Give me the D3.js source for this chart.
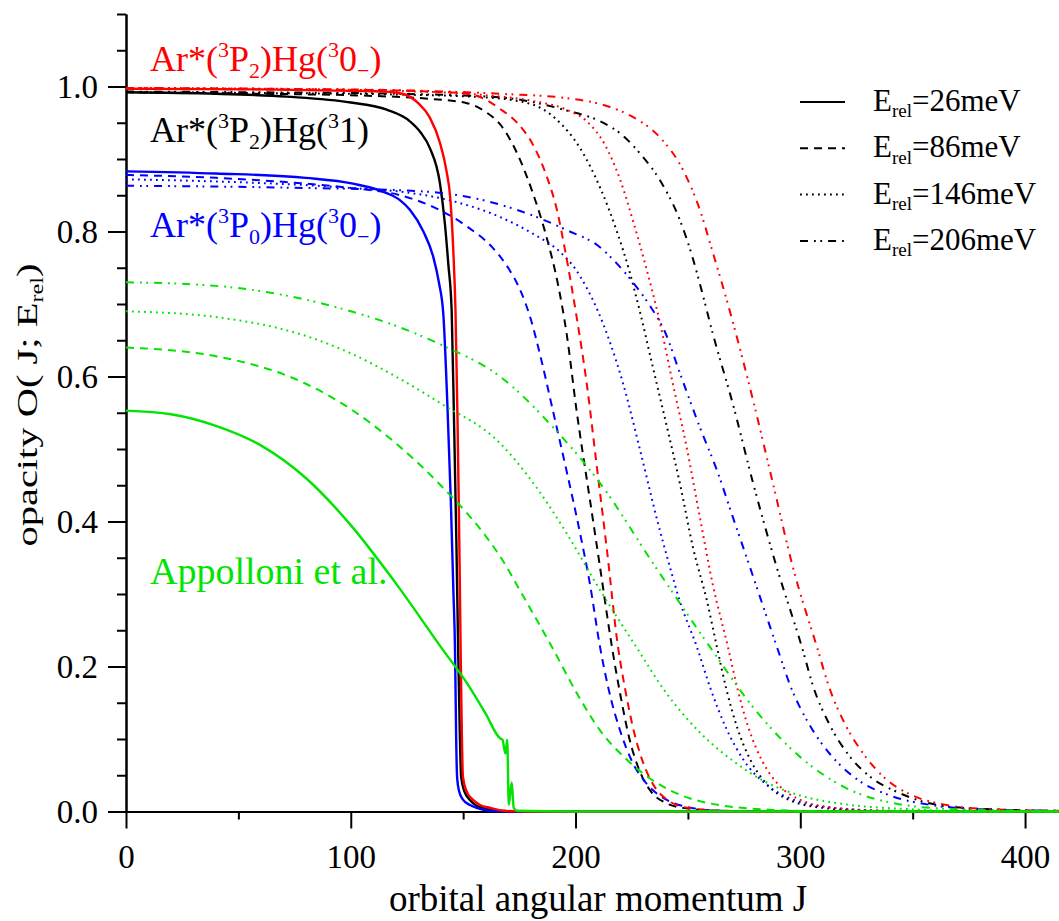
<!DOCTYPE html>
<html>
<head>
<meta charset="utf-8">
<script src="https://cdn.jsdelivr.net/npm/d3@7"></script>
<style>
  html, body { margin: 0; padding: 0; background: #fff; }
  svg { display: block; }
  svg text, svg tspan { font-family: "Liberation Serif", "DejaVu Serif", serif; }
</style>
</head>
<body>
<svg id="chart" width="1059" height="921"></svg>
<script>
// Opacity functions O(J; E_rel) — points are [J, O]

// Ar*(3P2)Hg(3 0-)
const red26 = [[0,0.997],[60,0.996],[100,0.994],[115,0.993],[123,0.99],[130,0.977],[135.2,0.957],[139.7,0.922],[142.5,0.885],[144.3,0.845],[145.6,0.775],[146.6,0.69],[147.5,0.54],[148.3,0.37],[148.9,0.22],[149.4,0.11],[149.9,0.048],[151.5,0.028],[154.4,0.016],[157.5,0.009],[162,0.005],[168,0.001],[178,0],[415,0]];
const red86 = [[0,0.997],[60,0.996],[110,0.995],[135,0.993],[151.7,0.99],[160,0.982],[166,0.97],[174,0.95],[181,0.92],[187.3,0.875],[191.7,0.83],[195.3,0.775],[200.6,0.68],[205,0.59],[209.5,0.475],[214,0.36],[218.9,0.227],[222,0.17],[226,0.11],[230,0.068],[235,0.035],[240,0.018],[250,0.005],[265,0.001],[290,0],[415,0]];
const red146 = [[0,0.998],[60,0.997],[120,0.994],[160,0.988],[181,0.98],[196,0.968],[205,0.952],[213,0.92],[220,0.87],[226,0.81],[231,0.755],[237.5,0.675],[243.3,0.59],[249.6,0.5],[255.3,0.406],[261,0.314],[267.8,0.227],[272,0.17],[277,0.115],[283,0.07],[290,0.038],[300,0.016],[315,0.005],[335,0.001],[370,0],[415,0]];
const red206 = [[0,0.998],[60,0.997],[120,0.995],[166,0.99],[196,0.984],[215,0.972],[225.5,0.958],[237.5,0.93],[247.8,0.885],[255.3,0.83],[260.7,0.775],[265,0.73],[270,0.675],[279,0.567],[287.8,0.453],[296.7,0.337],[307.4,0.227],[313,0.17],[320,0.12],[328,0.08],[338,0.045],[350,0.022],[365,0.009],[385,0.003],[415,0.001]];

// Ar*(3P2)Hg(3 1)
const black26 = [[0,0.992],[40,0.99],[71.5,0.986],[100,0.978],[116,0.968],[126.3,0.952],[131,0.937],[135.2,0.915],[139.7,0.866],[141.9,0.81],[143.4,0.755],[144.9,0.69],[146,0.53],[147,0.37],[147.8,0.22],[148.5,0.11],[149.1,0.048],[150.5,0.028],[153,0.016],[155.5,0.009],[158.8,0.005],[165,0.001],[175,0],[415,0]];
const black86 = [[0,0.992],[60,0.99],[110,0.987],[135,0.983],[151.7,0.977],[160,0.965],[166.4,0.948],[174,0.908],[181,0.853],[187.3,0.79],[192,0.73],[196,0.66],[200.6,0.55],[206.4,0.43],[210.9,0.337],[216.2,0.227],[220,0.16],[224,0.1],[228,0.06],[233,0.03],[240,0.012],[250,0.004],[265,0.001],[290,0],[415,0]];
const black146 = [[0,0.992],[60,0.991],[120,0.989],[160,0.985],[181,0.975],[191.7,0.954],[202,0.915],[211,0.86],[218.4,0.8],[224,0.745],[228.6,0.69],[234.4,0.613],[240.7,0.53],[246.4,0.453],[252.2,0.365],[258.5,0.29],[262.9,0.227],[267,0.17],[272,0.115],[278,0.07],[285,0.038],[295,0.016],[310,0.005],[330,0.001],[360,0],[415,0]];
const black206 = [[0,0.993],[60,0.992],[120,0.99],[166.4,0.985],[196,0.967],[211,0.952],[220,0.935],[228.6,0.908],[237.5,0.871],[246.4,0.816],[252,0.765],[256,0.72],[261,0.66],[270,0.562],[279,0.453],[289.5,0.337],[300.7,0.227],[306,0.17],[313,0.12],[321,0.08],[331,0.048],[343,0.027],[358,0.011],[378,0.004],[415,0.001]];

// Ar*(3P0)Hg(3 0-)
const blue26 = [[0,0.883],[40,0.88],[80,0.874],[101,0.866],[116,0.853],[122,0.843],[126.3,0.83],[132.3,0.8],[136.7,0.765],[139.2,0.73],[141.2,0.685],[143,0.56],[144.5,0.43],[145.6,0.31],[146.4,0.22],[146.9,0.1],[147.3,0.048],[148.2,0.028],[150,0.016],[153,0.009],[156,0.005],[162,0.001],[170,0],[415,0]];
const blue86 = [[0,0.878],[40,0.874],[80,0.866],[100,0.86],[122,0.85],[136.6,0.834],[151.7,0.807],[163,0.778],[170,0.75],[175,0.722],[180,0.68],[185,0.62],[190,0.552],[196,0.47],[202,0.384],[206.4,0.314],[210.9,0.227],[215,0.165],[220,0.11],[225,0.07],[232,0.037],[240,0.017],[250,0.006],[265,0.001],[290,0],[415,0]];
const blue146 = [[0,0.872],[40,0.869],[80,0.864],[100,0.86],[122,0.855],[144,0.843],[166.4,0.82],[181,0.797],[193,0.772],[200,0.748],[205,0.722],[210,0.69],[215,0.65],[221,0.592],[228.6,0.5],[236,0.406],[242,0.337],[246.4,0.29],[254,0.227],[260,0.17],[267,0.115],[275,0.07],[285,0.037],[298,0.015],[315,0.005],[340,0.001],[370,0],[415,0]];
const blue206 = [[0,0.863],[40,0.862],[80,0.86],[122,0.857],[151.7,0.848],[181,0.822],[196,0.802],[211,0.778],[218,0.757],[225,0.732],[233,0.698],[240,0.66],[246.4,0.605],[255.3,0.53],[263,0.47],[270,0.406],[277.6,0.337],[289.6,0.227],[296,0.17],[304,0.12],[313,0.08],[325,0.045],[340,0.022],[358,0.009],[380,0.003],[415,0.001]];

// Appolloni et al.
const green26 = [[0,0.553],[20,0.548],[40,0.532],[60,0.505],[80,0.46],[100,0.395],[120,0.315],[141,0.223],[151.7,0.177],[160,0.135],[166.4,0.101],[167.5,0.099],[168.8,0.08],[169.6,0.099],[170.3,0.009],[171.6,0.04],[172.5,0.005],[174,0.001],[200,0],[415,0]];
const green86 = [[0,0.64],[40,0.628],[80,0.59],[100,0.555],[120,0.508],[140,0.45],[160,0.38],[166.4,0.352],[178,0.29],[189.5,0.227],[200.6,0.163],[210.9,0.112],[223,0.071],[232,0.048],[245,0.025],[260,0.011],[290,0.002],[320,0],[415,0]];
const green146 = [[0,0.69],[40,0.682],[80,0.656],[100,0.632],[120,0.6],[140,0.563],[166.4,0.508],[180,0.458],[196,0.384],[210,0.31],[227,0.227],[240,0.165],[255,0.11],[270,0.07],[285,0.04],[300,0.022],[320,0.01],[350,0.003],[380,0],[415,0]];
const green206 = [[0,0.73],[40,0.725],[80,0.706],[100,0.69],[120,0.67],[140,0.644],[166.4,0.6],[190,0.53],[210.9,0.453],[235,0.34],[259.8,0.227],[280,0.14],[300,0.075],[320,0.033],[344,0.01],[370,0.003],[400,0.001],[415,0]];

const energies = [26, 86, 146, 206];
const xMajorTicks = [0, 100, 200, 300, 400];
const xMinorTicks = [50, 150, 250, 350];
const yMajorTicks = [0, 0.2, 0.4, 0.6, 0.8, 1.0];
const yMinorTicks = [0.05, 0.1, 0.15, 0.25, 0.3, 0.35, 0.45, 0.5, 0.55, 0.65, 0.7, 0.75, 0.85, 0.9, 0.95, 1.05, 1.1];

const COLORS = { red: "#ff0000", black: "#000000", blue: "#0000ff", green: "#00e400" };
const DASHES = { 26: null, 86: "8,6", 146: "1.8,4.2", 206: "8,6,1.8,4.5,1.8,6" };

const series = [
  { color: "black", e: 26, pts: black26 }, { color: "black", e: 86, pts: black86 },
  { color: "black", e: 146, pts: black146 }, { color: "black", e: 206, pts: black206 },
  { color: "blue", e: 26, pts: blue26 }, { color: "blue", e: 86, pts: blue86 },
  { color: "blue", e: 146, pts: blue146 }, { color: "blue", e: 206, pts: blue206 },
  { color: "red", e: 26, pts: red26 }, { color: "red", e: 86, pts: red86 },
  { color: "red", e: 146, pts: red146 }, { color: "red", e: 206, pts: red206 },
  { color: "green", e: 26, pts: green26 }, { color: "green", e: 86, pts: green86 },
  { color: "green", e: 146, pts: green146 }, { color: "green", e: 206, pts: green206 }
];

const svg = d3.select("#chart");
const x = d3.scaleLinear().domain([0, 415.1]).range([126, 1059]);
const y = d3.scaleLinear().domain([0, 1.1]).range([811.5, 14]);

// --- axes ---
function styleAxis(g) {
  g.attr("font-family", null);
  g.selectAll("path.domain").attr("stroke", "#000").attr("stroke-width", 2);
  g.selectAll(".tick line").attr("stroke", "#000").attr("stroke-width", 2);
  g.selectAll("text").attr("font-size", 33).attr("fill", "#000");
}

const gx = svg.append("g").attr("transform", `translate(0,${y(0)})`);
gx.append("g").call(d3.axisBottom(x).tickValues(xMinorTicks).tickSize(8).tickSizeOuter(0).tickFormat(""))
  .call(styleAxis);
gx.append("g").call(d3.axisBottom(x).tickValues(xMajorTicks).tickSize(17).tickSizeOuter(0).tickPadding(16).tickFormat(d3.format("d")))
  .call(styleAxis);

const gy = svg.append("g").attr("transform", `translate(${x(0)},0)`);
gy.append("g").call(d3.axisLeft(y).tickValues(yMinorTicks).tickSize(9).tickSizeOuter(0).tickFormat(""))
  .call(styleAxis);
gy.append("g").call(d3.axisLeft(y).tickValues(yMajorTicks).tickSize(18).tickSizeOuter(0).tickPadding(10).tickFormat(d3.format(".1f")))
  .call(styleAxis);

// axis titles
svg.append("text")
  .attr("x", 598).attr("y", 911)
  .attr("text-anchor", "middle")
  .attr("font-size", 37)
  .text("orbital angular momentum J");

// text with raised / lowered runs; each run carries its own baseline offset
function rich(sel, parts, size) {
  const small = Math.round(size * 0.6);
  let shift = 0;
  parts.forEach(p => {
    let target = 0, txt = p.t, fs = size;
    if (p.sup) { target = -size * 0.38; txt = p.sup; fs = small; }
    if (p.sub) { target = size * 0.2; txt = p.sub; fs = small; }
    sel.append("tspan").attr("font-size", fs).attr("dy", target - shift).text(txt);
    shift = target;
  });
}

// vertical title, drawn elongated along its reading direction
const yTitle = svg.append("text")
  .attr("transform", "translate(37,405) rotate(-90) scale(1.35,1)")
  .attr("text-anchor", "middle");
rich(yTitle, [{ t: "opacity O( J; E" }, { sub: "rel" }, { t: ")" }], 30);

// --- curves ---
const clip = svg.append("clipPath").attr("id", "plotclip");
clip.append("rect").attr("x", x(0)).attr("y", 0).attr("width", 1059 - x(0)).attr("height", y(0) + 2);

const line = d3.line().x(d => x(d[0])).y(d => y(d[1])).curve(d3.curveMonotoneX);
const curves = svg.append("g").attr("clip-path", "url(#plotclip)");
curves.selectAll("path")
  .data(series)
  .join("path")
  .attr("d", d => line(d.pts))
  .attr("fill", "none")
  .attr("stroke", d => COLORS[d.color])
  .attr("stroke-width", d => d.e === 26 ? 2.4 : 2)
  .attr("stroke-dasharray", d => DASHES[d.e]);

// --- curve labels ---
const labels = [
  { x: 150, y: 71, size: 36, color: "red", parts: [{ t: "Ar*(" }, { sup: "3" }, { t: "P" }, { sub: "2" }, { t: ")Hg(" }, { sup: "3" }, { t: "0" }, { sub: "\u2212" }, { t: ")" }] },
  { x: 150, y: 142, size: 36, color: "black", parts: [{ t: "Ar*(" }, { sup: "3" }, { t: "P" }, { sub: "2" }, { t: ")Hg(" }, { sup: "3" }, { t: "1)" }] },
  { x: 150, y: 237, size: 36, color: "blue", parts: [{ t: "Ar*(" }, { sup: "3" }, { t: "P" }, { sub: "0" }, { t: ")Hg(" }, { sup: "3" }, { t: "0" }, { sub: "\u2212" }, { t: ")" }] },
  { x: 150, y: 584, size: 38, color: "green", parts: [{ t: "Appolloni et al." }] }
];
labels.forEach(l => {
  const t = svg.append("text").attr("x", l.x).attr("y", l.y).attr("fill", COLORS[l.color]);
  rich(t, l.parts, l.size);
});

// --- legend ---
const legend = svg.append("g");
energies.forEach((e, i) => {
  const ly = 102 + i * 46.3;
  legend.append("line")
    .attr("x1", 800).attr("x2", 845).attr("y1", ly).attr("y2", ly)
    .attr("stroke", "#000").attr("stroke-width", 2)
    .attr("stroke-dasharray", DASHES[e]);
  const t = legend.append("text").attr("x", 873).attr("y", ly + 9).attr("fill", "#000");
  rich(t, [{ t: "E" }, { sub: "rel" }, { t: `=${e}meV` }], 31);
});
</script>
</body>
</html>
